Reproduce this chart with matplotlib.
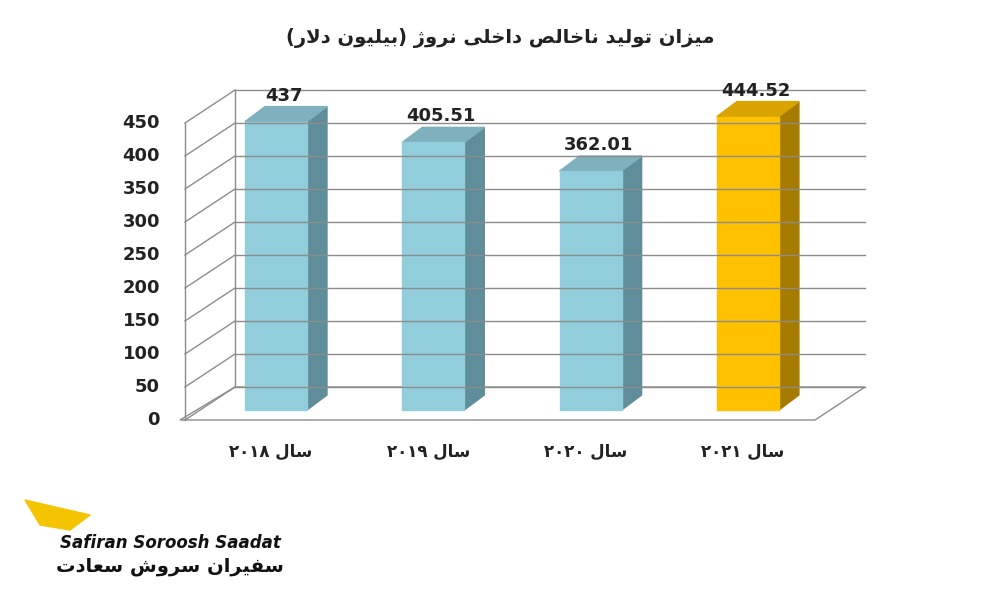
import matplotlib
matplotlib.use("Agg")
import matplotlib.pyplot as plt
from matplotlib.patches import Polygon

title = "میزان تولید ناخالص داخلی نروژ (بیلیون دلار)"
categories = ["سال ۲۰۱۸", "سال ۲۰۱۹", "سال ۲۰۲۰", "سال ۲۰۲۱"]
values = [437, 405.51, 362.01, 444.52]
value_labels = ["437", "405.51", "362.01", "444.52"]
yticks = [0, 50, 100, 150, 200, 250, 300, 350, 400, 450]

# minimal Arabic/Persian shaping
DUAL = {'ب': 'ﺏﺐﺑﺒ', 'ت': 'ﺕﺖﺗﺘ', 'خ': 'ﺥﺦﺧﺨ', 'س': 'ﺱﺲﺳﺴ', 'ص': 'ﺹﺺﺻﺼ',
        'ل': 'ﻝﻞﻟﻠ', 'م': 'ﻡﻢﻣﻤ', 'ن': 'ﻥﻦﻧﻨ', 'ی': '\uFBFC\uFBFD\uFBFE\uFBFF',
        'ع': '\uFEC9\uFECA\uFECB\uFECC', 'ف': '\uFED1\uFED2\uFED3\uFED4',
        'ش': '\uFEB5\uFEB6\uFEB7\uFEB8'}
RIGHT = {'ا': 'ﺍﺎ', 'د': 'ﺩﺪ', 'ر': 'ﺭﺮ', 'ز': 'ﺯﺰ', 'ژ': 'ﮊﮋ', 'و': 'ﻭﻮ'}

def shape(s):
    chars = list(s)
    out = []
    i = 0
    while i < len(chars):
        c = chars[i]
        prev = chars[i-1] if i > 0 else ''
        pj = prev in DUAL
        nxt = chars[i+1] if i+1 < len(chars) else ''
        if c == 'ل' and nxt == 'ا':
            out.append('\uFEFC' if pj else '\uFEFB')
            i += 2
            continue
        if c in DUAL:
            nj = nxt in DUAL or nxt in RIGHT
            f = DUAL[c]
            if pj and nj: out.append(f[3])
            elif pj: out.append(f[1])
            elif nj: out.append(f[2])
            else: out.append(f[0])
        elif c in RIGHT:
            out.append(RIGHT[c][1] if pj else RIGHT[c][0])
        else:
            out.append(c)
        i += 1
    runs = []
    for ch in out:
        isd = ch.isdigit()
        if runs and isd and runs[-1][0]:
            runs[-1][1].append(ch)
        else:
            runs.append([isd, [ch]])
    res = []
    for isd, r in reversed(runs):
        if isd:
            res.append(''.join(r))
        else:
            res.append(''.join({'(': ')', ')': '('}.get(x, x) for x in reversed(r)))
    return ''.join(res)

fig = plt.figure(figsize=(10, 6), dpi=100)
ax = fig.add_axes([0, 0, 1, 1])
ax.set_xlim(0, 1000); ax.set_ylim(600, 0); ax.axis('off')

y0f, sc = 420, 0.66
ddx, ddy = 50, -33
xl, xr = 185, 815
grid = '#8c8c8c'
ax.add_patch(Polygon([(xl-5, y0f), (xr, y0f), (xr+ddx, y0f+ddy), (xl+ddx, y0f+ddy)],
                     closed=True, fill=False, ec=grid, lw=1))
for t in yticks:
    yb = y0f + ddy - t*sc
    yf = y0f - t*sc
    ax.plot([xl+ddx, xr+ddx], [yb, yb], color=grid, lw=1)
    ax.plot([xl, xl+ddx], [yf, yb], color=grid, lw=1)
    ax.text(160, yf, str(t), ha='right', va='center', fontsize=13, fontweight='bold', color='#222')
ax.plot([xl, xl], [y0f, y0f - 450*sc], color=grid, lw=1)
ax.plot([xl+ddx, xl+ddx], [y0f+ddy, y0f+ddy-450*sc], color=grid, lw=1)

colors = [('#92CDDC', '#5F8E9A', '#7FB0BD')]*3 + [('#FFC000', '#A67C00', '#D9A300')]
bw, bdx, bdy = 62, 20, -15
for i, (v, lab, cat) in enumerate(zip(values, value_labels, categories)):
    x0 = 245 + i*157.3
    yb = 410
    yt = yb - v*sc
    cf, cs, ct = colors[i]
    ax.add_patch(Polygon([(x0+bw, yb), (x0+bw+bdx, yb+bdy), (x0+bw+bdx, yt+bdy), (x0+bw, yt)], color=cs))
    ax.add_patch(Polygon([(x0, yt), (x0+bw, yt), (x0+bw+bdx, yt+bdy), (x0+bdx, yt+bdy)], color=ct))
    ax.add_patch(Polygon([(x0, yb), (x0+bw, yb), (x0+bw, yt), (x0, yt)], color=cf))
    ax.text(x0+bw/2+8, yt+bdy-2, lab, ha='center', va='bottom', fontsize=13, fontweight='bold', color='#222')
    ax.text(x0+bw/2-5, 452, shape(cat), ha='center', va='center', fontsize=12, fontweight='bold', color='#222')

ax.text(500, 38, shape(title), ha='center', va='center', fontsize=14, fontweight='bold', color='#222')
ax.text(170, 543, "Safiran Soroosh Saadat", ha='center', va='center', fontsize=12,
        fontweight='bold', style='italic', color='#111')
ax.text(170, 566, shape("سفیران سروش سعادت"), ha='center', va='center', fontsize=14,
        fontweight='bold', color='#111')
ax.add_patch(Polygon([(25, 500), (90, 515), (70, 530), (40, 525)], color='#F5C400'))
fig.savefig('out.png', dpi=100)
